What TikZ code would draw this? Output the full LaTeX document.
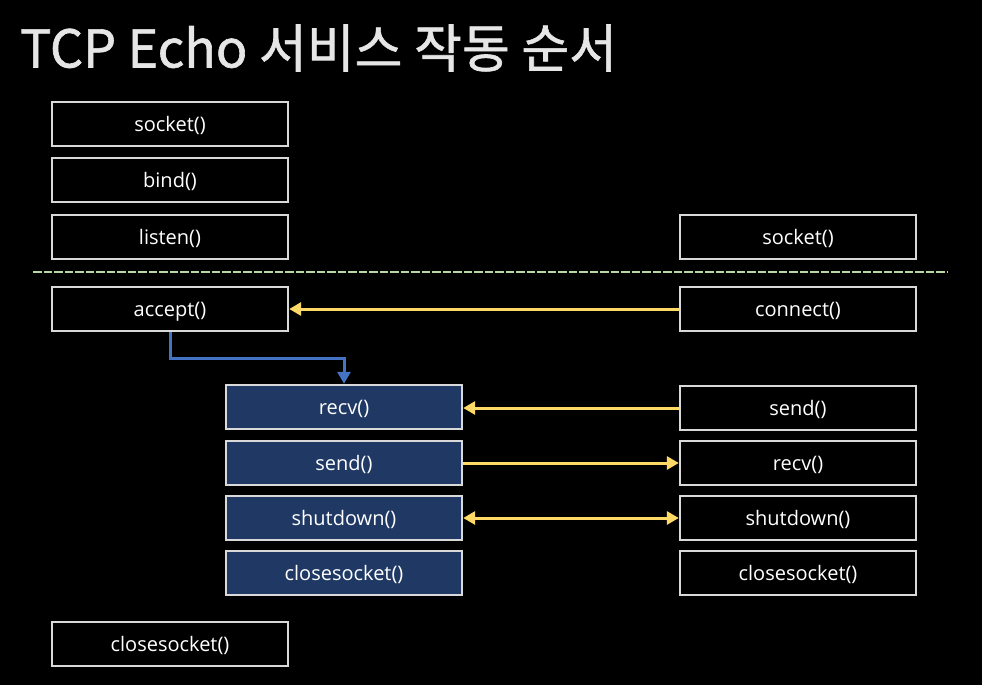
\documentclass[tikz,border=0pt]{standalone}
\usepackage{fontspec}
\setmainfont{Open Sans}
\newfontfamily\krfont[FakeBold=1.2]{Noto Sans CJK KR}
\usetikzlibrary{arrows.meta}
\definecolor{boxline}{HTML}{D9D9D9}
\definecolor{navy}{HTML}{1F3864}
\definecolor{flow}{HTML}{FFD966}
\definecolor{link}{HTML}{4472C4}
\definecolor{sep}{HTML}{B8D9A2}
\definecolor{titlegrey}{HTML}{E6E6E6}
\tikzset{
  fn/.style={draw=boxline, line width=2.4pt, fill=black, text=white,
    minimum width=236pt, minimum height=44pt, inner sep=0pt,
    text height=17pt, text depth=3pt,
    font=\fontsize{20}{24}\selectfont},
  srv/.style={fn, fill=navy},
  msg/.style={draw=flow, line width=3pt, -{Triangle[length=12pt,width=13pt]}},
  both/.style={draw=flow, line width=3pt, {Triangle[length=12pt,width=13pt]}-{Triangle[length=12pt,width=13pt]}},
}
\begin{document}
\begin{tikzpicture}[x=1pt,y=-1pt]
\fill[black] (0,0) rectangle (982,685);
\useasboundingbox (0,0) rectangle (982,685);

% title
\node[anchor=west, text=titlegrey, inner sep=0pt,
  font=\krfont\fontsize{52}{56}\selectfont] (title) at (20,48) {TCP Echo 서비스 작동 순서};

% server side, before accept
\node[fn] (ssock)   at (170,124) {socket()};
\node[fn] (sbind)   at (170,180) {bind()};
\node[fn] (slisten) at (170,237) {listen()};

% separator
\coordinate (sepl) at (33,272);
\coordinate (sepr) at (948,272);
\draw[sep, line width=2.6pt, dash pattern=on 8.5pt off 2pt] (sepl) -- (sepr);

\node[fn] (saccept) at (170,309) {accept()};
\node[fn] (sclose)  at (170,644) {closesocket()};

% per-client handling
\node[srv] (crecv)  at (344,407) {recv()};
\node[srv] (csend)  at (344,463) {send()};
\node[srv] (cshut)  at (344,518) {shutdown()};
\node[srv] (cclose) at (344,573) {closesocket()};

% client side
\node[fn] (ksock)    at (798,237) {socket()};
\node[fn] (kconnect) at (798,309) {connect()};
\node[fn] (ksend)    at (798,408) {send()};
\node[fn] (krecv)    at (798,463) {recv()};
\node[fn] (kshut)    at (798,518) {shutdown()};
\node[fn] (kclose)   at (798,573) {closesocket()};

% accept hands over to the handler
\draw[link, line width=3pt, -{Triangle[length=12pt,width=13pt]}]
  (saccept.south -| 170,0) -- (170,358) -| (crecv.north);

% messages
\draw[msg] (kconnect.west) -- (saccept.east);
\draw[msg] (ksend.west) -- (crecv.east |- ksend.west);
\draw[msg] (csend.east) -- (krecv.west);
\draw[both] (cshut.east) -- (kshut.west);
\end{tikzpicture}
\end{document}
